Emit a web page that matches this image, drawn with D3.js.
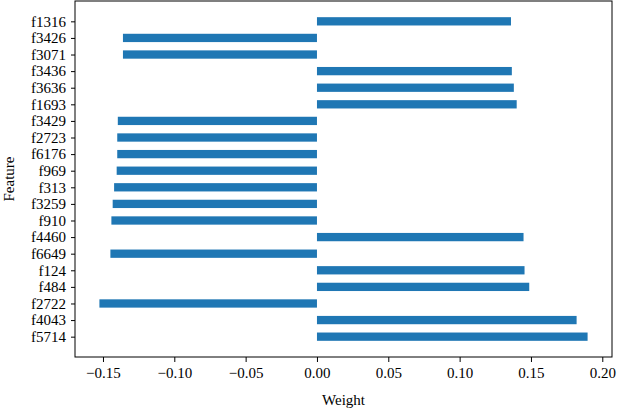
<!DOCTYPE html>
<html lang="en">
  <head>
    <meta charset="UTF-8" />
    <title>Feature weights</title>
    <style>
      body { margin: 0; background: #fff; }
      svg, svg text { font-family: "Liberation Serif", "DejaVu Serif", serif; }
      .tick text { font-size: 15px; fill: #000; }
      .domain { display: none; }
    </style>
  </head>
  <body>
    <script src="https://cdn.jsdelivr.net/npm/d3@7"></script>
    <script>
      // bottom to top
      const features = ["f5714", "f4043", "f2722", "f484", "f124", "f6649", "f4460", "f910", "f3259", "f313",
        "f969", "f6176", "f2723", "f3429", "f1693", "f3636", "f3436", "f3071", "f3426", "f1316"];
      const weights = [0.1897, 0.182, -0.1525, 0.1488, 0.1455, -0.1448, 0.1448, -0.1441, -0.1432, -0.1422,
        -0.1404, -0.140, -0.140, -0.1396, 0.140, 0.138, 0.1366, -0.136, -0.136, 0.136];
      const xTicks = [-0.15, -0.10, -0.05, 0.0, 0.05, 0.10, 0.15, 0.20];

      const width = 618;
      const height = 410;
      const plotLeft = 75, plotRight = 612, plotTop = 1, plotBottom = 357;
      const barH = 0.5;

      const data = features.map((f, i) => ({ name: f, i: i, w: weights[i] }));

      const lo = d3.min(weights), hi = d3.max(weights);
      const pad = (hi - lo) * 0.05;
      const xScale = d3.scaleLinear().domain([lo - pad, hi + pad]).range([plotLeft, plotRight]);
      const n = features.length;
      const yPad = (n - 1 + barH) * 0.05 + barH / 2;
      const yScale = d3.scaleLinear().domain([-yPad, n - 1 + yPad]).range([plotBottom, plotTop]);

      const svg = d3.select("body").append("svg")
        .attr("width", width)
        .attr("height", height);

      svg.selectAll("rect.bar")
        .data(data)
        .enter()
        .append("rect")
        .attr("class", "bar")
        .attr("x", d => xScale(Math.min(0, d.w)))
        .attr("width", d => Math.abs(xScale(d.w) - xScale(0)))
        .attr("y", d => yScale(d.i + barH / 2))
        .attr("height", d => yScale(d.i - barH / 2) - yScale(d.i + barH / 2))
        .attr("fill", "#1f77b4");

      const xAxis = d3.axisBottom(xScale)
        .tickValues(xTicks)
        .tickSize(5)
        .tickPadding(5)
        .tickFormat(d => d3.format(".2f")(d).replace("-", "\u2212"));
      svg.append("g")
        .attr("transform", "translate(0," + plotBottom + ")")
        .call(xAxis)
        .attr("font-family", null);

      const yAxis = d3.axisLeft(yScale)
        .tickValues(d3.range(n))
        .tickSize(4)
        .tickPadding(5)
        .tickFormat(i => features[i]);
      svg.append("g")
        .attr("transform", "translate(" + plotLeft + ",0)")
        .call(yAxis)
        .attr("font-family", null);

      svg.selectAll(".tick line").attr("stroke", "#000");

      // frame
      svg.append("rect")
        .attr("x", plotLeft)
        .attr("y", plotTop)
        .attr("width", plotRight - plotLeft)
        .attr("height", plotBottom - plotTop)
        .attr("fill", "none")
        .attr("stroke", "#000")
        .attr("stroke-width", 1);

      svg.append("text")
        .attr("x", (plotLeft + plotRight) / 2)
        .attr("y", 405)
        .attr("text-anchor", "middle")
        .style("font-size", "15px")
        .text("Weight");

      svg.append("text")
        .attr("transform", "translate(14," + (plotTop + plotBottom) / 2 + ") rotate(-90)")
        .attr("text-anchor", "middle")
        .style("font-size", "15px")
        .text("Feature");
    </script>
  </body>
</html>
